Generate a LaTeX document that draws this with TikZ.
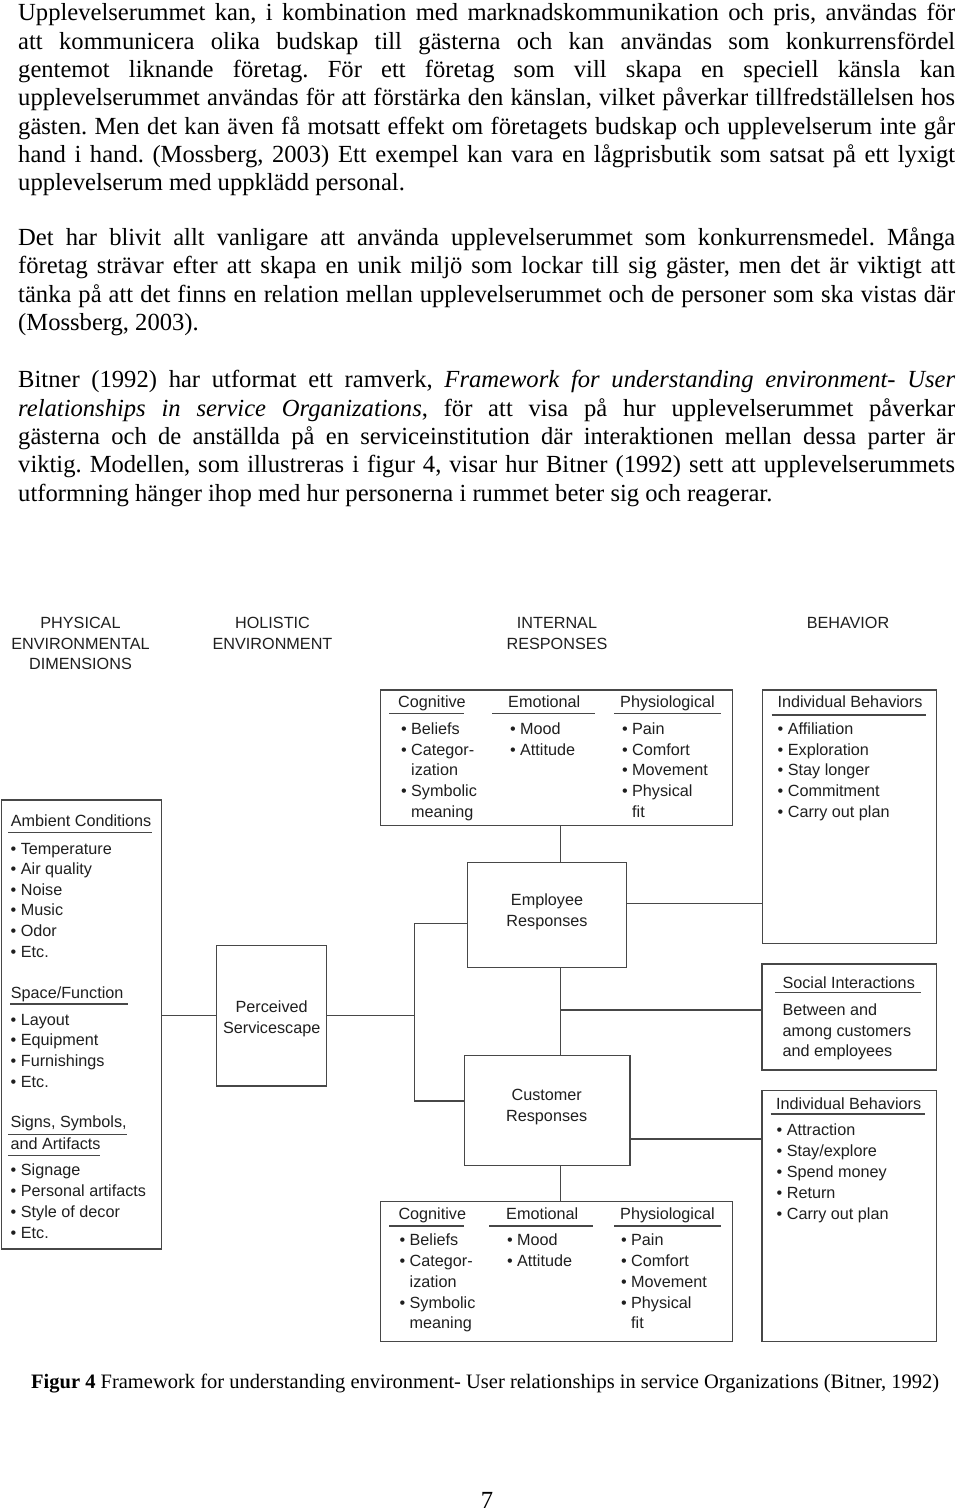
\documentclass[tikz,border=0pt]{standalone}
\usepackage{fontspec}
\setmainfont{Liberation Serif}
\newfontfamily\dfont{Liberation Sans}
\usetikzlibrary{calc}
\frenchspacing
\newcommand\jl[3]{\node[bodytxt] (#1) at (18,#2) {\makebox[937pt][s]{#3}};}
\newcommand\lastline[3]{\node[bodytxt] (#1) at (18,#2) {#3};}
\newcommand\dtx[4]{\node[dtxt] (#1) at (#2,#3) {#4};}
\newcommand\ditem[4]{\node[dtxt] (#1) at (#2-10.2,#3) {•\ #4};}
\newcommand\hdrline[3]{\draw[uln] (#1,#3) -- (#2,#3);}
\newcommand\dbox[5]{\node[box, minimum width=#4-#2, minimum height=#5-#3] (#1) at (#2,#3) {};}
\begin{document}
\frenchspacing
\begin{tikzpicture}[x=1pt,y=-1pt,
  bodytxt/.style={anchor=base west, inner sep=0, font=\frenchspacing\fontsize{24.6}{28.3}\selectfont},
  captxt/.style={anchor=base west, inner sep=0, font=\frenchspacing\fontsize{20.5}{24}\selectfont},
  dtxt/.style={anchor=base west, inner sep=0, text=black!88, font=\dfont\fontsize{16.2}{20.7}\selectfont},
  dctr/.style={dtxt, anchor=base},
  box/.style={draw=black!72, line width=1.2pt, anchor=north west, inner sep=0, outer sep=0},
  conn/.style={draw=black!72, line width=1.2pt},
  uln/.style={draw=black!72, line width=1.1pt}]
\fill[white] (0,0) rectangle (960,1511);
\useasboundingbox (0,0) rectangle (960,1511);

% ---------- body text ----------
\jl{p1a}{21}{Upplevelserummet kan, i kombination med marknadskommunikation och pris, användas för}
\jl{p1b}{49.3}{att kommunicera olika budskap till gästerna och kan användas som konkurrensfördel}
\jl{p1c}{77.6}{gentemot liknande företag. För ett företag som vill skapa en speciell känsla kan}
\jl{p1d}{105.9}{upplevelserummet användas för att förstärka den känslan, vilket påverkar tillfredställelsen hos}
\jl{p1e}{134.2}{gästen. Men det kan även få motsatt effekt om företagets budskap och upplevelserum inte går}
\jl{p1f}{162.5}{hand i hand. (Mossberg, 2003) Ett exempel kan vara en lågprisbutik som satsat på ett lyxigt}
\lastline{p1g}{190.8}{upplevelserum med uppklädd personal.}

\jl{p2a}{245.5}{Det har blivit allt vanligare att använda upplevelserummet som konkurrensmedel. Många}
\jl{p2b}{273.8}{företag strävar efter att skapa en unik miljö som lockar till sig gäster, men det är viktigt att}
\jl{p2c}{302.1}{tänka på att det finns en relation mellan upplevelserummet och de personer som ska vistas där}
\lastline{p2d}{330.4}{(Mossberg, 2003).}

\jl{p3a}{387.9}{Bitner (1992) har utformat ett ramverk, \textit{Framework for understanding environment- User}}
\jl{p3b}{416.2}{\textit{relationships in service Organizations}, för att visa på hur upplevelserummet påverkar}
\jl{p3c}{444.5}{gästerna och de anställda på en serviceinstitution där interaktionen mellan dessa parter är}
\jl{p3d}{472.8}{viktig. Modellen, som illustreras i figur 4, visar hur Bitner (1992) sett att upplevelserummets}
\lastline{p3e}{501.1}{utformning hänger ihop med hur personerna i rummet beter sig och reagerar.}

% ---------- column headers ----------
\node[dctr] (h1a) at (80.5,628.5) {PHYSICAL};
\node[dctr] (h1b) at (80.5,649.1) {ENVIRONMENTAL};
\node[dctr] (h1c) at (80.5,669.8) {DIMENSIONS};
\node[dctr] (h2a) at (272.5,628.5) {HOLISTIC};
\node[dctr] (h2b) at (272.5,649.1) {ENVIRONMENT};
\node[dctr] (h3a) at (557,628.5) {INTERNAL};
\node[dctr] (h3b) at (557,649.1) {RESPONSES};
\node[dctr] (h4) at (848,628.5) {BEHAVIOR};

% ---------- boxes ----------
\dbox{ir1}{380.7}{690}{732.3}{825.3}
\dbox{beh1}{762.3}{690}{936.3}{943.3}
\dbox{phys}{1.7}{800}{161.7}{1249}
\dbox{perc}{216.7}{945.7}{326.7}{1086}
\dbox{emp}{467.3}{862.7}{626.7}{967.7}
\dbox{soc}{762}{964}{936.3}{1070}
\dbox{cust}{464.3}{1055.7}{630}{1165.5}
\dbox{beh2}{762}{1090.7}{936.3}{1341.7}
\dbox{ir2}{380.3}{1201.7}{732.3}{1341.7}

% ---------- connectors ----------
\coordinate (spT) at (414.3,923.3);
\coordinate (spB) at (414.3,1101);
\coordinate (vx) at (560.7,900);
\coordinate (brS) at (560.7,1010);
\coordinate (hE) at (700,903.7);
\coordinate (hC) at (700,1139);
\draw[conn] (perc.west -| phys.east) -- (perc.west);
\draw[conn] (perc.east) -- (perc.east -| spT);
\draw[conn] (spT -| emp.west) -- (spT) -- (spB) -- (spB -| cust.west);
\draw[conn] (ir1.south -| vx) -- (emp.north -| vx);
\draw[conn] (emp.south -| vx) -- (cust.north -| vx);
\draw[conn] (brS) -- (brS -| soc.west);
\draw[conn] (hE -| emp.east) -- (hE -| beh1.west);
\draw[conn] (hC -| cust.east) -- (hC -| beh2.west);
\draw[conn] (cust.south -| vx) -- (ir2.north -| vx);

% ---------- physical environmental dimensions box ----------
\dtx{amb}{10.7}{826.8}{Ambient Conditions}
\hdrline{8.3}{152.3}{832.3}
\ditem{a1}{20.7}{854.1}{Temperature}
\ditem{a2}{20.7}{874.8}{Air quality}
\ditem{a3}{20.7}{895.1}{Noise}
\ditem{a4}{20.7}{915.8}{Music}
\ditem{a5}{20.7}{936.5}{Odor}
\ditem{a6}{20.7}{957.5}{Etc.}
\dtx{spf}{10.7}{998.5}{Space/Function}
\hdrline{10}{127.7}{1004}
\ditem{s1}{20.7}{1025.1}{Layout}
\ditem{s2}{20.7}{1045.8}{Equipment}
\ditem{s3}{20.7}{1066.5}{Furnishings}
\ditem{s4}{20.7}{1087.5}{Etc.}
\dtx{sig1}{10.3}{1127.5}{Signs, Symbols,}
\hdrline{8.3}{127}{1134.3}
\dtx{sig2}{10.3}{1149.1}{and Artifacts}
\hdrline{8.3}{100}{1155.7}
\ditem{g1}{20.7}{1175.8}{Signage}
\ditem{g2}{20.7}{1196.8}{Personal artifacts}
\ditem{g3}{20.7}{1217.5}{Style of decor}
\ditem{g4}{20.7}{1238.5}{Etc.}

% ---------- perceived servicescape ----------
\node[dctr] (pt1) at (271.7,1012.5) {Perceived};
\node[dctr] (pt2) at (271.7,1033.1) {Servicescape};

% ---------- employee / customer ----------
\node[dctr] (et1) at (547,905.6) {Employee};
\node[dctr] (et2) at (547,926.3) {Responses};
\node[dctr] (ct1) at (546.7,1100.6) {Customer};
\node[dctr] (ct2) at (546.7,1121.3) {Responses};

% ---------- internal responses (top) ----------
\dtx{c1h}{398}{707.5}{Cognitive}
\hdrline{389}{464}{713.3}
\dtx{e1h}{508}{707.5}{Emotional}
\hdrline{492}{595}{713.3}
\dtx{f1h}{620}{707.5}{Physiological}
\hdrline{614}{721}{713.3}
\ditem{c1a}{411}{734.1}{Beliefs}
\ditem{c1b}{411}{755.1}{Categor-}
\dtx{c1c}{411}{775.8}{ization}
\ditem{c1d}{411}{796.5}{Symbolic}
\dtx{c1e}{411}{817.1}{meaning}
\ditem{e1a}{520}{734.1}{Mood}
\ditem{e1b}{520}{755.1}{Attitude}
\ditem{f1a}{632}{734.1}{Pain}
\ditem{f1b}{632}{755.1}{Comfort}
\ditem{f1c}{632}{775.8}{Movement}
\ditem{f1d}{632}{796.5}{Physical}
\dtx{f1e}{632}{817.1}{fit}

% ---------- internal responses (bottom) ----------
\dtx{c2h}{398.3}{1219.1}{Cognitive}
\hdrline{389.3}{464.3}{1226}
\dtx{e2h}{506}{1219.1}{Emotional}
\hdrline{489}{593.3}{1226}
\dtx{f2h}{620}{1219.1}{Physiological}
\hdrline{614.3}{720.7}{1226}
\ditem{c2a}{409.5}{1245.8}{Beliefs}
\ditem{c2b}{409.5}{1266.8}{Categor-}
\dtx{c2c}{409.5}{1287.3}{ization}
\ditem{c2d}{409.5}{1308.1}{Symbolic}
\dtx{c2e}{409.5}{1328.5}{meaning}
\ditem{e2a}{517}{1245.8}{Mood}
\ditem{e2b}{517}{1266.8}{Attitude}
\ditem{f2a}{631}{1245.8}{Pain}
\ditem{f2b}{631}{1266.8}{Comfort}
\ditem{f2c}{631}{1287.3}{Movement}
\ditem{f2d}{631}{1308.1}{Physical}
\dtx{f2e}{631}{1328.5}{fit}

% ---------- behaviour boxes ----------
\dtx{b1h}{777.3}{707.5}{Individual Behaviors}
\hdrline{771.7}{926}{715}
\ditem{b1a}{787.7}{734.1}{Affiliation}
\ditem{b1b}{787.7}{755.1}{Exploration}
\ditem{b1c}{787.7}{775.8}{Stay longer}
\ditem{b1d}{787.7}{796.5}{Commitment}
\ditem{b1e}{787.7}{817.1}{Carry out plan}

\dtx{soh}{782.3}{988.5}{Social Interactions}
\hdrline{775}{921}{992.7}
\dtx{so1}{782.3}{1015.8}{Between and}
\dtx{so2}{782.3}{1036.5}{among customers}
\dtx{so3}{782.3}{1056.8}{and employees}

\dtx{b2h}{776}{1109.1}{Individual Behaviors}
\hdrline{770.7}{925}{1114}
\ditem{b2a}{786.7}{1135.8}{Attraction}
\ditem{b2b}{786.7}{1156.5}{Stay/explore}
\ditem{b2c}{786.7}{1177.5}{Spend money}
\ditem{b2d}{786.7}{1198.1}{Return}
\ditem{b2e}{786.7}{1219.1}{Carry out plan}

% ---------- caption and page number ----------
\node[captxt] (cap) at (31,1388.5) {\textbf{Figur 4} Framework for understanding environment- User relationships in service Organizations (Bitner, 1992)};
\node[bodytxt, anchor=base] (pg) at (487,1508) {7};
\end{tikzpicture}
\end{document}
